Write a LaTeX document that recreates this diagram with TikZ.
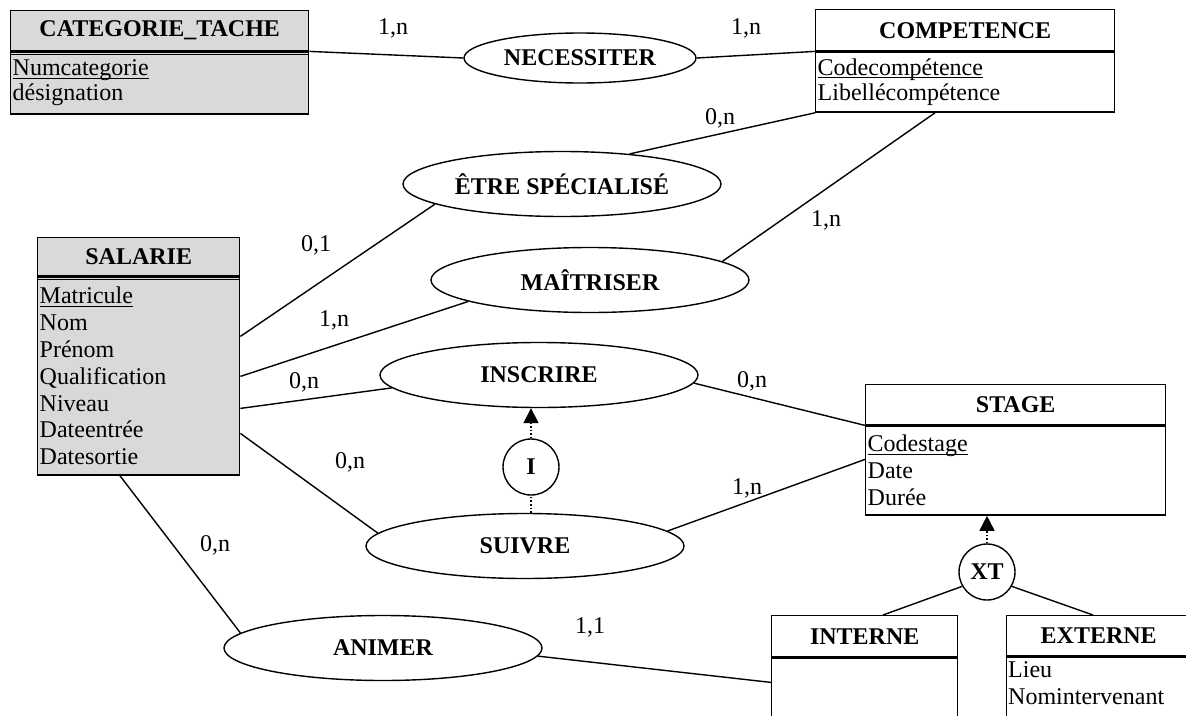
\documentclass[tikz,border=0pt]{standalone}
\usepackage{fontspec}
\setmainfont{Liberation Serif}
\usepackage{tikz}
\usetikzlibrary{arrows.meta,positioning,shapes.geometric,calc}
\usepackage{xcolor}
\definecolor{entgray}{RGB}{217,217,217}
\newcommand{\keyattr}[1]{\setbox0\hbox{#1}\rlap{\rule[-3pt]{\wd0}{1.2pt}}\box0}
\tikzset{
  enthead/.style={draw,line width=1.4pt,minimum height=40pt,inner sep=0pt,anchor=north west,
    font=\fontsize{24}{26}\selectfont\bfseries},
  entbody/.style={draw,line width=1.4pt,inner xsep=2pt,inner ysep=0pt,align=left,anchor=north west,
    font=\fontsize{24}{25}\selectfont},
  entgrey/.style={fill=entgray},
  assoc/.style={draw,ellipse,line width=1.4pt,minimum width=318pt,minimum height=65pt,inner sep=0pt,
    font=\fontsize{24}{26}\selectfont\bfseries},
  constr/.style={draw,circle,line width=1.4pt,minimum size=56pt,inner sep=0pt,
    font=\fontsize{24}{26}\selectfont\bfseries},
  link/.style={line width=1.4pt},
  consdots/.style={dotted,line width=1.6pt},
  consarrow/.style={consdots,-{Triangle[length=15pt,width=15pt]}},
  cardlbl/.style={font=\fontsize{24}{26}\selectfont,inner sep=0pt}
}

\begin{document}
\begin{tikzpicture}[x=1pt,y=-1pt]
  \useasboundingbox (0,0) rectangle (1186,715);
  \clip (0,0) rectangle (1186,715);
  % entities
  \node[enthead,entgrey,minimum width=298pt] (cath) at (10,10) {CATEGORIE\_TACHE};
  \node[entbody,entgrey,text width=294pt,minimum height=62pt] (catb) at (cath.south west) {\keyattr{Numcategorie}\\désignation};
  \draw[link] ($(cath.south west)+(0,3)$) -- ($(cath.south east)+(0,3)$);
  \node[enthead,minimum width=299pt,minimum height=41pt] (comph) at (815,9) {COMPETENCE};
  \node[entbody,text width=295pt,minimum height=60pt] (compb) at (comph.south west) {\keyattr{Codecompétence}\\Libellécompétence};
  \node[enthead,entgrey,minimum width=202pt,minimum height=38pt] (salh) at (37,237) {SALARIE};
  \node[entbody,entgrey,text width=198pt,minimum height=198pt,font=\fontsize{24}{26.8}\selectfont] (salb) at (salh.south west)
    {\keyattr{Matricule}\\Nom\\Prénom\\Qualification\\Niveau\\Dateentrée\\Datesortie};
  \draw[link] ($(salh.south west)+(0,3)$) -- ($(salh.south east)+(0,3)$);
  \node[enthead,minimum width=300pt] (stageh) at (865,384) {STAGE};
  \node[entbody,text width=296pt,minimum height=89pt,font=\fontsize{24}{27}\selectfont] (stageb) at (stageh.south west)
    {\keyattr{Codestage}\\Date\\Durée};
  \node[enthead,minimum width=186pt,minimum height=41pt] (inth) at (771,615) {INTERNE};
  \node[entbody,text width=182pt,minimum height=80pt] (intb) at (inth.south west) {};
  \node[enthead,minimum width=184pt] (exth) at (1006,615) {EXTERNE};
  \node[entbody,text width=180pt,minimum height=80pt] (extb) at (exth.south west) {};
  \node[anchor=north west,align=left,inner sep=2pt,font=\fontsize{24}{27}\selectfont] (extattr) at ($(extb.north west)+(0,3)$)
    {Lieu\\Nomintervenant};
  % associations
  \node[assoc,minimum width=232pt,minimum height=50pt] (nec) at (580,58) {NECESSITER};
  \node[assoc] (spec) at (562,184) {ÊTRE SPÉCIALISÉ};
  \node[assoc] (mait) at (590,280) {MAÎTRISER};
  \node[assoc] (insc) at (539,375) {INSCRIRE};
  \node[assoc] (suiv) at (525,546) {SUIVRE};
  \node[assoc] (anim) at (383,648) {ANIMER};
  \node[constr] (cinc) at (531,467) {I};
  \node[constr] (cxt) at (987,572) {XT};
  % links
  \draw[link] (cath.south east) -- (nec.west);
  \draw[link] (nec.east) -- (comph.south west);
  \draw[link] (compb.south west) -- (spec.24);
  \draw[link] ($(compb.south west)+(120,0)$) -- (mait.8);
  \draw[link] ($(salb.north east)+(0,60)$) -- (spec.189);
  \draw[link] ($(salb.north east)+(0,100)$) -- (mait.190);
  \draw[link] ($(salb.north east)+(0,132)$) -- (insc.185);
  \draw[link] ($(salb.north east)+(0,157)$) -- (suiv.175);
  \draw[link] ($(salb.south west)+(83,0)$) -- (anim.174);
  \draw[link] (insc.357) -- (stageh.south west);
  \draw[link] (suiv.6) -- ($(stageb.north west)+(0,34)$);
  \draw[link] (anim.357) -- ($(intb.north west)+(0,25)$);
  \draw[link] (cxt.210) -- ($(inth.north west)+(112,0)$);
  \draw[link] (cxt.330) -- ($(exth.north west)+(87,0)$);
  \draw[consarrow] (cinc) -- (cinc |- insc.south);
  \draw[consdots] (cinc |- suiv.north) -- (cinc);
  \draw[consarrow] (cxt) -- (cxt |- stageb.south);
  % cardinalities
  \node[cardlbl] (cnec1) at (393,28) {1,n};
  \node[cardlbl] (cnec2) at (746,28) {1,n};
  \node[cardlbl] (cspec1) at (720,118) {0,n};
  \node[cardlbl] (cspec2) at (316,245) {0,1};
  \node[cardlbl] (cmait1) at (826,220) {1,n};
  \node[cardlbl] (cmait2) at (334,320) {1,n};
  \node[cardlbl] (cinsc1) at (304,382) {0,n};
  \node[cardlbl] (cinsc2) at (752,381) {0,n};
  \node[cardlbl] (csuiv1) at (350,462) {0,n};
  \node[cardlbl] (csuiv2) at (747,488) {1,n};
  \node[cardlbl] (canim1) at (215,545) {0,n};
  \node[cardlbl] (canim2) at (590,627) {1,1};
\end{tikzpicture}
\end{document}
